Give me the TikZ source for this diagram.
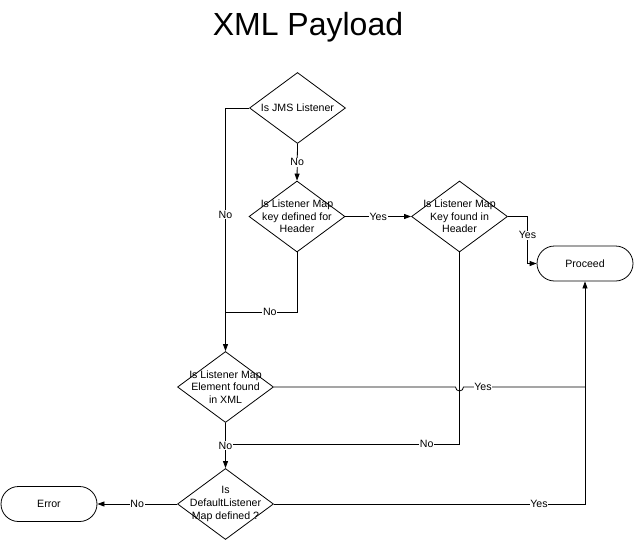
\documentclass[tikz,border=0pt]{standalone}
\usepackage{fontspec}
\setmainfont{Liberation Sans}
\usetikzlibrary{shapes.geometric,shapes.misc,arrows.meta}
\begin{document}
\begin{tikzpicture}[x=1pt,y=-1pt,
  dec/.style={draw,shape=diamond,minimum width=96pt,minimum height=71pt,inner sep=0pt,line width=0.8pt},
  dtext/.style={align=center,inner sep=0pt,font=\fontsize{10.6}{12.6}\selectfont},
  term/.style={draw,rounded rectangle,minimum width=96pt,minimum height=35pt,inner sep=0pt,line width=0.8pt,font=\fontsize{10.6}{12.6}\selectfont},
  conn/.style={line width=0.8pt},
  arr/.style={conn,-{Triangle[length=7pt,width=5pt]}},
  lbl/.style={fill=white,inner sep=0.8pt,font=\fontsize{10.6}{12.6}\selectfont}]
\useasboundingbox (0,0) rectangle (634,541);
\node[anchor=base,font=\fontsize{32}{36}\selectfont] (title) at (308,35) {XML Payload};
% decisions
\node[dec] (d1) at (297.5,108) {};
\node[dtext] (t1) at (d1) {Is JMS Listener};
\node[dec] (d2) at (297,216.5) {};
\node[dtext] (t2) at (d2) {Is Listener Map\\key defined for\\Header};
\node[dec] (d4) at (459.5,216.5) {};
\node[dtext] (t4) at (d4) {Is Listener Map\\Key found in\\Header};
\node[dec] (d3) at (225.5,387) {};
\node[dtext] (t3) at (d3) {Is Listener Map\\Element found\\in XML};
\node[dec] (d5) at (225.5,504) {};
\node[dtext] (t5) at (d5) {Is\\DefaultListener\\Map defined ?};
% terminals
\node[term] (pr) at (585,263.5) {Proceed};
\node[term] (err) at (49,504) {Error};
% junctions
\coordinate (j1) at (225.5,312);
\coordinate (j2) at (225.5,444);
\coordinate (j3) at (585,387);
% connectors
\draw[arr] (d1.south) -- node[lbl,pos=0.5]{No} (d2.north);
\draw[arr] (d1.west) -| node[lbl,pos=0.72]{No} (d3.north);
\draw[conn] (d2.south) |- node[lbl,pos=0.69]{No} (j1);
\draw[arr] (d2.east) -- node[lbl,pos=0.5]{Yes} (d4.west);
\draw[arr] (d4.east) -- ++(19.5,0) |- node[lbl,pos=0.2]{Yes} (pr.west);
\draw[conn] (d3.east) -- (455.5,387) arc[start angle=180,end angle=0,radius=4] -- node[lbl,pos=0.16]{Yes} (j3);
\draw[conn] (d4.south) |- node[lbl,pos=0.57]{No} (j2);
\draw[arr] (d3.south) -- node[lbl,pos=0.5]{No} (d5.north);
\draw[arr] (d5.west) -- node[lbl,pos=0.5]{No} (err.east);
\draw[arr] (d5.east) -| node[lbl,pos=0.426]{Yes} (pr.south);
\end{tikzpicture}
\end{document}
